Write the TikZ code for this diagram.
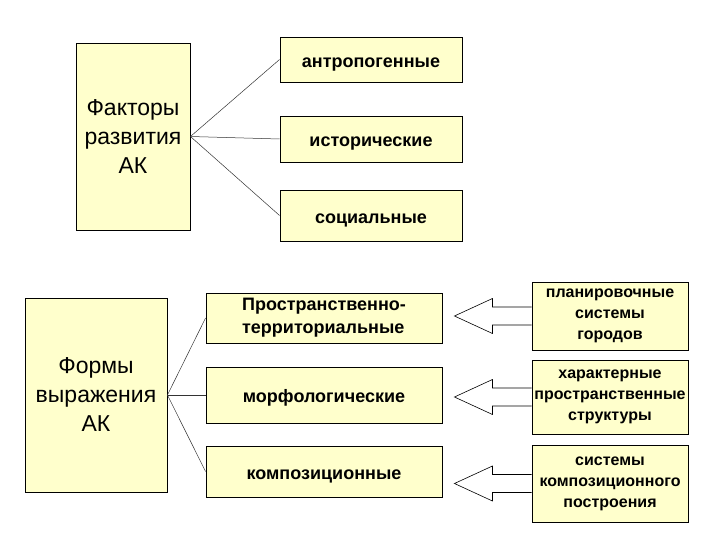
\documentclass[tikz,border=0pt]{standalone}
\usepackage{fontspec}
\setmainfont{Liberation Sans}
\usetikzlibrary{calc}
\definecolor{boxfill}{HTML}{FFFFCC}
\tikzset{
  box/.style={draw=black, line width=0.9pt, fill=boxfill, inner sep=0pt},
  multi/.style={align=center},
  bigtext/.style={multi, font=\fontsize{23}{29}\selectfont},
  midtext/.style={font=\fontsize{18}{23}\selectfont\bfseries},
  smalltext/.style={multi, font=\fontsize{16}{21}\selectfont\bfseries},
  oneline/.style={text height=19pt, text depth=3.6pt},
  link/.style={draw=black!80, line width=0.5pt},
  blockarr/.style={draw=black, line width=0.6pt, fill=white, line join=miter}
}
\newcommand\blockarrow[2]{%
  \draw[blockarr] ($(#2.west)+(0,-9)$) -- ($(#1.east |- #2.west)+(50,-9)$) -- ++(0,-8.5)
    -- ($(#1.east |- #2.west)+(12,0)$) -- ($(#1.east |- #2.west)+(50,17.5)$) -- ++(0,-8.5)
    -- ($(#2.west)+(0,9)$);}
\begin{document}
\begin{tikzpicture}[x=1pt,y=-1pt]
\useasboundingbox (0,0) rectangle (720,540);
% top group
\node[box, bigtext, minimum width=114pt, minimum height=187pt] (f) at (133,136.5) {Факторы\\развития\\АК};
\node[box, midtext, oneline, minimum width=182pt, minimum height=45pt] (f1) at (371,59.5) {антропогенные};
\node[box, midtext, oneline, minimum width=182pt, minimum height=46pt] (f2) at (371,139) {исторические};
\node[box, midtext, oneline, minimum width=182pt, minimum height=51pt] (f3) at (371,215.5) {социальные};
\draw[link] (f.east) -- (f1.west);
\draw[link] (f.east) -- (f2.west);
\draw[link] (f.east) -- (f3.west);
% bottom group
\node[box, bigtext, minimum width=142pt, minimum height=194pt] (g) at (96,395) {Формы\\выражения\\АК};
\node[box, midtext, align=left, minimum width=236pt, minimum height=50pt] (m1) at (324,318) {Пространственно-\\территориальные};
\node[box, midtext, oneline, minimum width=236pt, minimum height=56pt] (m2) at (324,395) {морфологические};
\node[box, midtext, oneline, minimum width=236pt, minimum height=51pt] (m3) at (324,471.5) {композиционные};
\draw[link] (g.east) -- (m1.west);
\draw[link] (g.east) -- (m2.west);
\draw[link] (g.east) -- (m3.west);
\node[box, smalltext, minimum width=156pt, minimum height=68pt] (r1) at (610,316) {планировочные\\системы\\городов};
\node[box, smalltext, minimum width=156pt, minimum height=74pt] (r2) at (610,397) {характерные\\пространственные\\структуры};
\node[box, smalltext, minimum width=156pt, minimum height=77pt] (r3) at (610,483.5) {системы\\композиционного\\построения};
\blockarrow{m1}{r1}
\blockarrow{m2}{r2}
\blockarrow{m3}{r3}
\end{tikzpicture}
\end{document}
